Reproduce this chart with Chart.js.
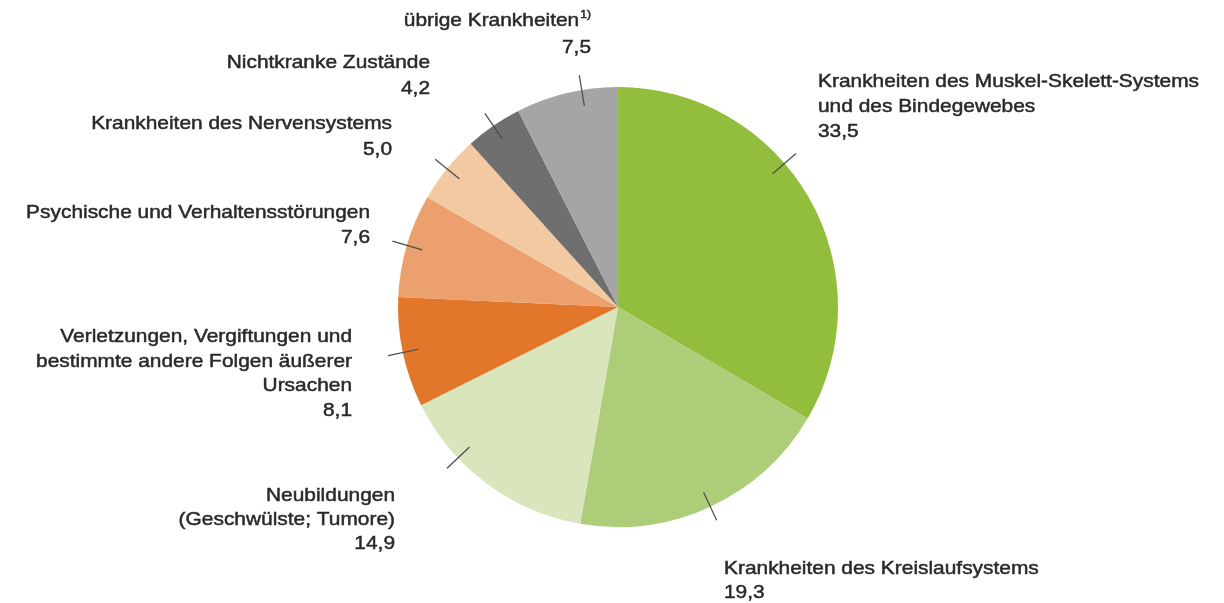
<!DOCTYPE html>
<html>
<head>
<meta charset="utf-8">
<script src="https://cdn.jsdelivr.net/npm/chart.js@4.4.1/dist/chart.umd.min.js"></script>
<style>
  html, body { margin: 0; padding: 0; background: #fff; }
  #wrap { width: 1224px; height: 603px; }
</style>
</head>
<body>
<div id="wrap"><canvas id="myChart" width="1224" height="603"></canvas></div>
<script>
// Anteile in Prozent
const categories = [
  'Krankheiten des Muskel-Skelett-Systems und des Bindegewebes',
  'Krankheiten des Kreislaufsystems',
  'Neubildungen (Geschwülste; Tumore)',
  'Verletzungen, Vergiftungen und bestimmte andere Folgen äußerer Ursachen',
  'Psychische und Verhaltensstörungen',
  'Krankheiten des Nervensystems',
  'Nichtkranke Zustände',
  'übrige Krankheiten'
];
const values = [33.5, 19.3, 14.9, 8.1, 7.6, 5.0, 4.2, 7.5];
const valueLabels = ['33,5', '19,3', '14,9', '8,1', '7,6', '5,0', '4,2', '7,5'];
// Zeilenumbruch der Beschriftungen wie im Original
const labelLines = [
  ['Krankheiten des Muskel-Skelett-Systems', 'und des Bindegewebes'],
  ['Krankheiten des Kreislaufsystems'],
  ['Neubildungen', '(Geschwülste; Tumore)'],
  ['Verletzungen, Vergiftungen und', 'bestimmte andere Folgen äußerer', 'Ursachen'],
  ['Psychische und Verhaltensstörungen'],
  ['Krankheiten des Nervensystems'],
  ['Nichtkranke Zustände'],
  ['übrige Krankheiten']
];
const footnotes = ['', '', '', '', '', '', '', '1)'];

const colors = ['#93bd3c', '#aecd78', '#d9e6bd', '#e2762a', '#eba06e', '#f2c9a0', '#6f6f6f', '#a5a5a5'];

// Lage der Beschriftungen (x, Mitte erste Zeile, Ausrichtung, Zeilenabstand)
const labelLayout = [
  { x: 818, y: 82, align: 'left', lh: 25 },
  { x: 724, y: 569, align: 'left', lh: 24 },
  { x: 395, y: 496, align: 'right', lh: 24 },
  { x: 352, y: 337, align: 'right', lh: 24.5 },
  { x: 370, y: 213, align: 'right', lh: 25 },
  { x: 392, y: 124, align: 'right', lh: 26 },
  { x: 430, y: 63, align: 'right', lh: 26 },
  { x: 591, y: 21, align: 'right', lh: 27 }
];
// kleine Abweichung der Hinweislinien von der Segmentmitte (Grad)
const leaderShift = [-11, 0, 10, 0, 0, 0, 0, 4];

const FONT_SIZE = 19;
const X_STRETCH = 1.1;
const FONT = '"Liberation Sans", Arial, Helvetica, sans-serif';

function textWidth(ctx, s, size) {
  ctx.font = size + 'px ' + FONT;
  return ctx.measureText(s).width * X_STRETCH;
}

function drawText(ctx, s, x, y, size) {
  ctx.save();
  ctx.font = size + 'px ' + FONT;
  ctx.translate(x, y);
  ctx.scale(X_STRETCH, 1);
  ctx.textAlign = 'left';
  ctx.textBaseline = 'middle';
  ctx.strokeStyle = ctx.fillStyle;
  ctx.lineWidth = 0.5;
  ctx.fillText(s, 0, 0);
  ctx.strokeText(s, 0, 0);
  ctx.restore();
}

const pieLabels = {
  id: 'pieLabels',
  afterDatasetsDraw(chart) {
    const ctx = chart.ctx;
    const meta = chart.getDatasetMeta(0);
    ctx.save();
    meta.data.forEach((arc, i) => {
      // Hinweislinie
      const mid = (arc.startAngle + arc.endAngle) / 2 + leaderShift[i] * Math.PI / 180;
      const r = arc.outerRadius;
      ctx.strokeStyle = '#4a4a4a';
      ctx.lineWidth = 1.2;
      ctx.beginPath();
      ctx.moveTo(arc.x + Math.cos(mid) * (r - 16), arc.y + Math.sin(mid) * (r - 16));
      ctx.lineTo(arc.x + Math.cos(mid) * (r + 15), arc.y + Math.sin(mid) * (r + 15));
      ctx.stroke();

      // Text
      const lay = labelLayout[i];
      const lines = labelLines[i].concat([valueLabels[i]]);
      ctx.fillStyle = '#2a2a2a';
      lines.forEach((line, k) => {
        const y = lay.y + k * lay.lh;
        const fn = (k === 0) ? footnotes[i] : '';
        const w = textWidth(ctx, line, FONT_SIZE);
        const fw = fn ? textWidth(ctx, fn, 11) + 1 : 0;
        const x0 = lay.align === 'left' ? lay.x : lay.x - w - fw;
        drawText(ctx, line, x0, y, FONT_SIZE);
        if (fn) drawText(ctx, fn, x0 + w + 1, y - 6, 11);
      });
    });
    ctx.restore();
  }
};

new Chart(document.getElementById('myChart'), {
  type: 'pie',
  data: {
    labels: categories,
    datasets: [{
      data: values,
      backgroundColor: colors,
      borderWidth: 0
    }]
  },
  options: {
    responsive: false,
    animation: false,
    layout: { padding: { top: 87, bottom: 76, left: 398, right: 386 } },
    plugins: {
      legend: { display: false },
      tooltip: { enabled: false }
    }
  },
  plugins: [pieLabels]
});
</script>
</body>
</html>
